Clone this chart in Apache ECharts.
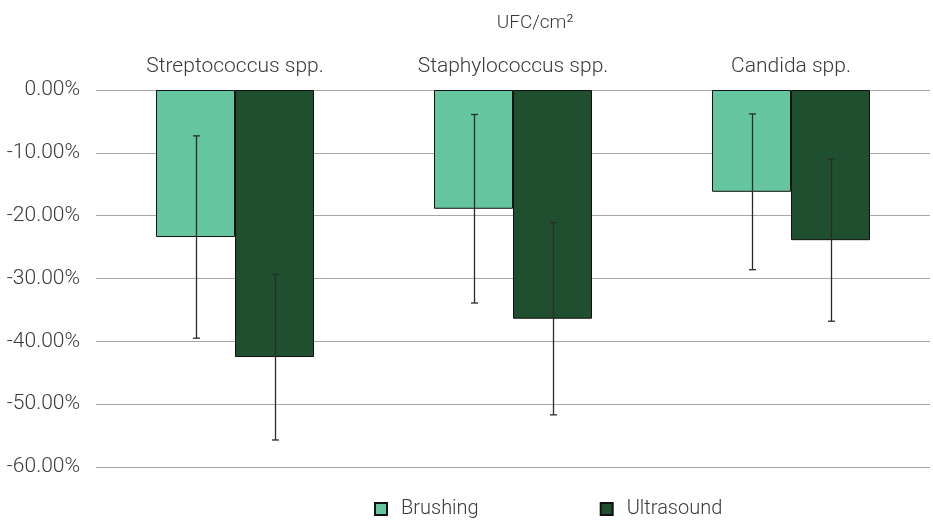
<!DOCTYPE html>
<html>
<head>
<meta charset="utf-8">
<script src="https://cdn.jsdelivr.net/npm/echarts@6/dist/echarts.min.js"></script>
<style>
  html, body { margin: 0; padding: 0; background: #fff; }
  #chart { width: 933px; height: 520px; }
</style>
</head>
<body>
<div id="chart"></div>
<script>
// Reduction of colony counts (UFC/cm²) per organism and cleaning method
const categories = ['Streptococcus spp.', 'Staphylococcus spp.', 'Candida spp.'];
const seriesNames = ['Brushing', 'Ultrasound'];
const brushing = [-23.4, -18.9, -16.2];
const ultrasound = [-42.5, -36.4, -23.9];
// Error bar half-widths (± around each bar value)
const brushingErr = [16.1, 15.0, 12.4];
const ultrasoundErr = [13.2, 15.3, 12.9];
const yTicks = [0, -10, -20, -30, -40, -50, -60];

const colors = ['#65c59f', '#1f4f2e'];
const textColor = '#3a3a3a';
const fontFamily = 'Roboto, "Noto Sans", sans-serif';
const fontWeight = 300;
const barWidth = 79;

function errorData(values, errs) {
  return values.map((v, i) => [i, v - errs[i], v + errs[i]]);
}

function errorSeries(name, values, errs, offset) {
  return {
    type: 'custom',
    name: name + ' error',
    z: 5,
    silent: true,
    data: errorData(values, errs),
    renderItem: function (params, api) {
      const cat = api.value(0);
      const lo = api.coord([cat, api.value(1)]);
      const hi = api.coord([cat, api.value(2)]);
      const x = Math.round(lo[0] + offset) + 0.5;
      const cap = 3.5;
      const style = { stroke: '#2b2b2b', lineWidth: 1.3 };
      return {
        type: 'group',
        children: [
          { type: 'line', shape: { x1: x, y1: hi[1], x2: x, y2: lo[1] }, style: style },
          { type: 'line', shape: { x1: x - cap, y1: hi[1], x2: x + cap, y2: hi[1] }, style: style },
          { type: 'line', shape: { x1: x - cap, y1: lo[1], x2: x + cap, y2: lo[1] }, style: style }
        ]
      };
    }
  };
}

const chart = echarts.init(document.getElementById('chart'));
chart.setOption({
  animation: false,
  textStyle: { fontFamily: fontFamily, fontWeight: fontWeight },
  title: {
    text: 'UFC/cm²',
    left: 530,
    textAlign: 'center',
    top: 9,
    textStyle: { fontSize: 19, fontWeight: fontWeight, color: textColor, fontFamily: fontFamily }
  },
  legend: {
    data: seriesNames,
    top: 494,
    left: 369,
    itemWidth: 12,
    itemHeight: 12,
    itemGap: 121,
    icon: 'rect',
    textStyle: { fontSize: 20, fontWeight: fontWeight, color: textColor, fontFamily: fontFamily, padding: [0, 0, 0, 9] }
  },
  grid: { left: 96, right: 3, top: 90, bottom: 53, containLabel: false },
  xAxis: {
    type: 'category',
    position: 'top',
    data: categories,
    axisLine: { show: false },
    axisTick: { show: false },
    axisLabel: { fontSize: 21, fontWeight: fontWeight, color: textColor, margin: 13, fontFamily: fontFamily }
  },
  yAxis: {
    type: 'value',
    min: -60,
    max: 0,
    interval: 10,
    axisLine: { show: false },
    axisTick: { show: false },
    splitLine: { lineStyle: { color: '#a6a6a6', width: 1.2 } },
    axisLabel: {
      fontSize: 21,
      fontWeight: fontWeight,
      color: textColor,
      margin: 16,
      fontFamily: fontFamily,
      formatter: v => yTicks.indexOf(v) >= 0 ? v.toFixed(2) + '%' : ''
    }
  },
  series: [
    {
      name: seriesNames[0],
      type: 'bar',
      data: brushing,
      barWidth: barWidth,
      barGap: '0%',
      itemStyle: { color: colors[0], borderColor: '#111', borderWidth: 1 }
    },
    {
      name: seriesNames[1],
      type: 'bar',
      data: ultrasound,
      barWidth: barWidth,
      barGap: '0%',
      itemStyle: { color: colors[1], borderColor: '#111', borderWidth: 1 }
    },
    errorSeries(seriesNames[0], brushing, brushingErr, -barWidth / 2),
    errorSeries(seriesNames[1], ultrasound, ultrasoundErr, barWidth / 2)
  ]
});
</script>
</body>
</html>
